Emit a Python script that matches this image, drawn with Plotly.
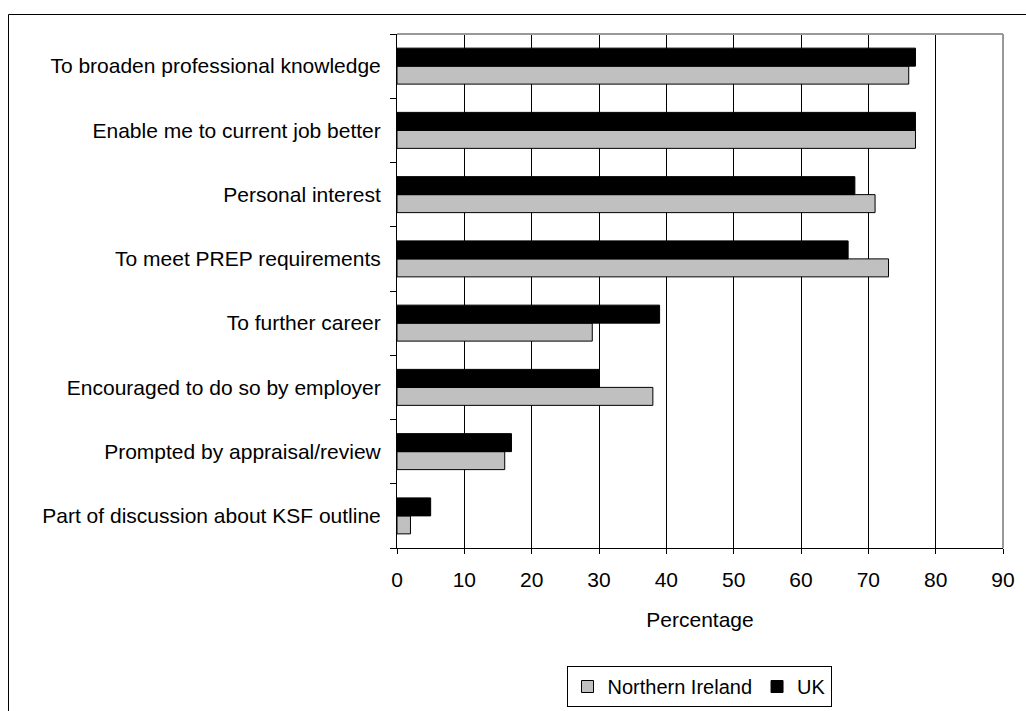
import plotly.graph_objects as go

# Reasons for undertaking learning, bottom to top
categories = [
    "Part of discussion about KSF outline",
    "Prompted by appraisal/review",
    "Encouraged to do so by employer",
    "To further career",
    "To meet PREP requirements",
    "Personal interest",
    "Enable me to current job better",
    "To broaden professional knowledge",
]
northern_ireland = [2, 16, 38, 29, 73, 71, 77, 76]
uk = [5, 17, 30, 39, 67, 68, 77, 77]
x_ticks = [0, 10, 20, 30, 40, 50, 60, 70, 80, 90]

W, H = 1026, 711
L, R, T, B = 397, 23, 34, 163
pw, ph = W - L - R, H - T - B

def px(x):
    return (x - L) / pw

def py(y):
    return (H - B - y) / ph

family = "Arial, 'Liberation Sans', sans-serif"
font = dict(family=family, size=21, color="black")
legend_font = dict(family=family, size=20, color="black")

fig = go.Figure()
fig.add_trace(go.Bar(
    y=categories, x=northern_ireland, name="Northern Ireland", orientation="h",
    marker=dict(color="#C0C0C0", line=dict(color="black", width=1)),
))
fig.add_trace(go.Bar(
    y=categories, x=uk, name="UK", orientation="h",
    marker=dict(color="black", line=dict(color="black", width=1)),
))

fig.update_layout(
    width=W, height=H,
    margin=dict(l=L, r=R, t=T, b=B, autoexpand=False),
    paper_bgcolor="white", plot_bgcolor="white",
    font=font,
    barmode="group", bargap=0.44, bargroupgap=0,
    legend=dict(
        orientation="h", x=px(699), xanchor="center", y=py(666), yanchor="top",
        bordercolor="black", borderwidth=1, font=legend_font,
        itemwidth=30, tracegroupgap=0,
    ),
    xaxis=dict(
        range=[0, 90], tickvals=x_ticks, showgrid=True, gridcolor="black", gridwidth=1,
        zeroline=False, showline=True, linecolor="black", linewidth=1,
        ticks="outside", ticklen=5, tickcolor="black", ticklabelstandoff=8,
        title=dict(text="Percentage", font=font, standoff=22),
        tickfont=font, automargin=False,
    ),
    yaxis=dict(
        categoryorder="array", categoryarray=categories,
        showgrid=False, showline=True, linecolor="black", linewidth=1,
        ticks="outside", ticklen=6, tickcolor="black", tickson="boundaries",
        ticklabelstandoff=11, tickfont=font, automargin=False,
    ),
    shapes=[
        # gray frame on top and right of the plot area
        dict(type="line", xref="paper", yref="paper", x0=0, x1=1, y0=1, y1=1,
             line=dict(color="#999999", width=2)),
        dict(type="line", xref="paper", yref="paper", x0=1, x1=1, y0=0, y1=1,
             line=dict(color="#999999", width=2)),
        # outer chart border
        dict(type="rect", xref="paper", yref="paper",
             x0=px(8.5), x1=px(1040), y0=py(14.5), y1=py(730),
             line=dict(color="black", width=1), layer="below"),
    ],
)

fig.write_html("out.html")
